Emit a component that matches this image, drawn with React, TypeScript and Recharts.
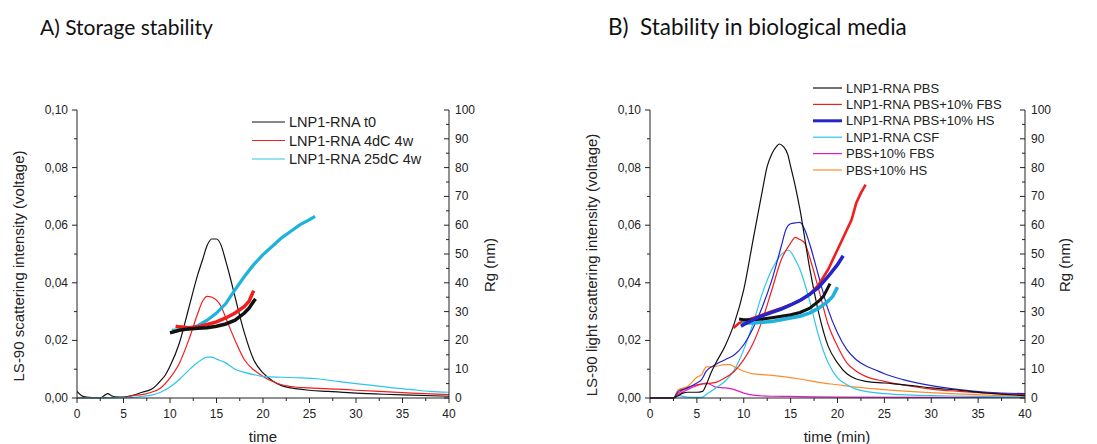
import React from "react"
import { ComposedChart, Line, XAxis, YAxis } from "recharts"

type Pair = [number, number]

// time ticks (min), intensity ticks (V), Rg ticks (nm)
const xTicks = [0, 2.5, 5, 7.5, 10, 12.5, 15, 17.5, 20, 22.5, 25, 27.5, 30, 32.5, 35, 37.5, 40]
const leftTicks = [0, 0.01, 0.02, 0.03, 0.04, 0.05, 0.06, 0.07, 0.08, 0.09, 0.1]
const rightTicks = [0, 5, 10, 15, 20, 25, 30, 35, 40, 45, 50, 55, 60, 65, 70, 75, 80, 85, 90, 95, 100]

// Panel A – storage stability, LS-90 intensity
const aT0: Pair[] = [
  [0, 0.0023], [0.5, 0.0008], [1, 0.0003], [2, 0.0001], [2.5, 0], [3, 0.001], [3.3, 0.0015], [3.7, 0.0008],
  [4, 0.0004], [5, 0.0003], [6, 0.0009], [7, 0.002], [8, 0.003], [8.5, 0.0043], [9, 0.006], [9.5, 0.008],
  [10, 0.011], [11, 0.019], [12, 0.031], [13, 0.043], [13.5, 0.048], [14, 0.053], [14.5, 0.0552], [15, 0.0552],
  [15.5, 0.053], [16, 0.0475], [16.5, 0.0415], [17, 0.035], [18, 0.0226], [19, 0.0133], [20, 0.0087],
  [21, 0.006], [22, 0.0043], [23, 0.0035], [25, 0.0027], [27, 0.0023], [30, 0.0017], [33, 0.0013],
  [36, 0.001], [40, 0.0006],
]
const a4dC: Pair[] = [
  [0, 0], [5, 0.0002], [6, 0.0008], [7, 0.0012], [8, 0.002], [9, 0.0035], [10, 0.007], [11, 0.012],
  [12, 0.02], [13, 0.0295], [13.5, 0.0336], [14, 0.0353], [14.5, 0.035], [15, 0.034], [15.5, 0.0318],
  [16, 0.0278], [17, 0.02], [18, 0.0133], [19, 0.0098], [20, 0.0075], [21, 0.0058], [22, 0.0046],
  [23, 0.004], [25, 0.0035], [28, 0.0031], [30, 0.0027], [33, 0.0022], [36, 0.0017], [40, 0.0012],
]
const a25dC: Pair[] = [
  [0, 0], [6, 0.0002], [7, 0.0006], [8, 0.001], [9, 0.002], [10, 0.0038], [11, 0.0064], [12, 0.0096],
  [13, 0.0124], [14, 0.0142], [14.5, 0.0142], [15, 0.0135], [16, 0.0122], [17, 0.01], [18, 0.0089],
  [19, 0.0081], [20, 0.0075], [22, 0.0072], [24, 0.007], [26, 0.0066], [28, 0.0058], [30, 0.005],
  [32, 0.0043], [34, 0.0035], [36, 0.0029], [38, 0.0023], [40, 0.002],
]
// Panel A – Rg (nm)
const aT0Rg: Pair[] = [
  [10, 22.6], [11, 23.5], [12, 24], [13, 24.2], [14, 24.4], [15, 24.9], [16, 25.7], [17, 27], [18, 29.5],
  [18.5, 31.2], [19, 33.6], [19.2, 34.4],
]
const a4dCRg: Pair[] = [
  [10.6, 24.9], [11, 24.7], [12, 24.4], [13, 24.7], [14, 25.5], [15, 26.4], [16, 27.8], [17, 29.5],
  [18, 31.8], [18.5, 33.6], [19, 37.3],
]
const a25dCRg: Pair[] = [
  [10.2, 23.5], [11, 23.7], [12, 24], [13, 25.1], [14, 27], [15, 29.5], [16, 32.8], [17, 37.6], [18, 42.2],
  [19, 46.3], [20, 49.8], [21, 52.7], [22, 55.6], [23, 57.9], [24, 60.2], [25, 61.9], [25.6, 63.1],
]

// Panel B – biological media, LS-90 intensity
const bPBS: Pair[] = [
  [0, 0], [2.5, 0], [3, 0.0008], [3.5, 0.0017], [4, 0.002], [5, 0.002], [5.6, 0.0023], [6, 0.0046],
  [6.5, 0.0087], [7, 0.012], [8, 0.018], [9, 0.026], [10, 0.0376], [11, 0.055], [12, 0.0723], [12.5, 0.0804],
  [13, 0.0848], [13.5, 0.0874], [13.8, 0.0882], [14.2, 0.0874], [14.7, 0.0845], [15, 0.0804], [15.5, 0.0735],
  [16, 0.0654], [17, 0.0457], [18, 0.0295], [19, 0.018], [20, 0.0122], [21, 0.0084], [22, 0.0066],
  [23, 0.0058], [25, 0.0052], [28, 0.0043], [30, 0.0035], [33, 0.0027], [36, 0.0017], [40, 0.0008],
]
const bFBS: Pair[] = [
  [0, 0], [2.5, 0], [3, 0.0017], [4, 0.0035], [5, 0.0046], [6, 0.005], [7, 0.0054], [8, 0.007], [9, 0.0093],
  [10, 0.0133], [11, 0.019], [12, 0.0272], [13, 0.0376], [14, 0.048], [15, 0.0538], [15.5, 0.0558],
  [16, 0.055], [16.5, 0.0538], [17, 0.0492], [18, 0.0376], [19, 0.0255], [20, 0.018], [21, 0.0122],
  [22, 0.0093], [23, 0.0075], [25, 0.0058], [28, 0.004], [30, 0.0031], [33, 0.0023], [36, 0.0017], [40, 0.0012],
]
const bHS: Pair[] = [
  [0, 0], [2.5, 0], [3, 0.0023], [4, 0.0035], [5, 0.0052], [5.5, 0.0064], [6, 0.0093], [7, 0.0116],
  [8, 0.0133], [9, 0.015], [10, 0.0185], [11, 0.0243], [12, 0.0318], [13, 0.041], [14, 0.0527],
  [14.5, 0.0585], [15, 0.0605], [15.5, 0.0608], [16, 0.061], [16.5, 0.0585], [17, 0.0538], [18, 0.0422],
  [19, 0.0307], [20, 0.0226], [21, 0.0168], [22, 0.0133], [23, 0.0112], [24, 0.0098], [25, 0.0084],
  [27, 0.0064], [30, 0.0043], [33, 0.0029], [36, 0.002], [40, 0.0015],
]
const bCSF: Pair[] = [
  [0, 0], [2.5, 0], [3, 0.0008], [4, 0.0003], [5, 0.0002], [5.5, 0.0002], [6, 0.0012], [7, 0.0035],
  [8, 0.0058], [9, 0.0098], [10, 0.0168], [11, 0.026], [12, 0.0365], [13, 0.0446], [14, 0.0498],
  [14.8, 0.0513], [15.5, 0.048], [16, 0.0446], [17, 0.0341], [18, 0.0214], [19, 0.0122], [20, 0.007],
  [21, 0.0046], [22, 0.0031], [23, 0.0023], [25, 0.0015], [28, 0.001], [32, 0.0007], [36, 0.0005], [40, 0.0003],
]
const bMediaFBS: Pair[] = [
  [0, 0], [2.5, 0], [3, 0.0012], [4, 0.0029], [5, 0.0043], [6, 0.0052], [6.5, 0.0046], [7, 0.0038],
  [8, 0.0035], [9, 0.0029], [10, 0.0017], [11, 0.001], [13, 0.0006], [16, 0.0005], [20, 0.0003],
  [30, 0.0002], [40, 0.0002],
]
const bMediaHS: Pair[] = [
  [0, 0], [2.5, 0], [3, 0.0029], [4, 0.004], [5, 0.0072], [5.5, 0.0081], [6, 0.0108], [7, 0.011],
  [8, 0.0116], [8.5, 0.0116], [9, 0.0108], [10, 0.0093], [11, 0.0084], [12, 0.0081], [14, 0.0075],
  [16, 0.0066], [18, 0.0054], [20, 0.0046], [22, 0.0038], [25, 0.0029], [28, 0.0022], [32, 0.0015],
  [36, 0.001], [40, 0.0006],
]
// Panel B – Rg (nm)
const bPBSRg: Pair[] = [
  [9.5, 27.4], [10, 27.2], [11, 27.2], [12, 27.4], [13, 27.9], [14, 28.4], [15, 28.9], [16, 29.7],
  [17, 31.1], [18, 33.6], [18.5, 35.3], [19.2, 39.7],
]
const bFBSRg: Pair[] = [
  [8.9, 24.3], [9.5, 26], [10, 26.6], [11, 27.8], [12, 28.9], [13, 30.1], [14, 31.2], [15, 32.4], [16, 33.9],
  [17, 35.9], [18, 39.4], [19, 44.6], [20, 51.5], [21, 58.4], [21.5, 61.9], [22, 67.7], [22.5, 71.2], [23, 74.1],
]
const bHSRg: Pair[] = [
  [9.7, 24.9], [10, 25.5], [11, 27.2], [12, 28.6], [13, 29.7], [14, 30.9], [15, 32.3], [16, 33.9],
  [17, 35.9], [18, 38.5], [19, 42.2], [20, 46.3], [20.6, 49.4],
]
const bCSFRg: Pair[] = [
  [9.8, 26], [11, 26], [12, 26.3], [13, 26.6], [14, 27.2], [15, 27.8], [16, 28.4], [17, 29.5], [18, 31.2],
  [19, 33.6], [19.5, 35.3], [20, 38.5],
]

const BLACK = "#111111"
const RED = "#f21d1d"
const CYAN = "#2cc6ea"
const CYAN_RG = "#1eb2de"
const BLUE = "#2424c8"
const MAGENTA = "#e01cc4"
const ORANGE = "#ff8c28"
const AXIS = "#222222"
const FONT = "'Liberation Sans', Arial, sans-serif"

type Series = { key: string; data: Pair[]; color: string; width: number; axis: "left" | "right" }

const panelA: Series[] = [
  { key: "aT0", data: aT0, color: BLACK, width: 1.2, axis: "left" },
  { key: "a4dC", data: a4dC, color: RED, width: 1.2, axis: "left" },
  { key: "a25dC", data: a25dC, color: CYAN, width: 1.2, axis: "left" },
  { key: "a25dCRg", data: a25dCRg, color: CYAN_RG, width: 3.2, axis: "right" },
  { key: "a4dCRg", data: a4dCRg, color: RED, width: 3.5, axis: "right" },
  { key: "aT0Rg", data: aT0Rg, color: BLACK, width: 3.5, axis: "right" },
]

const panelB: Series[] = [
  { key: "bMediaFBS", data: bMediaFBS, color: MAGENTA, width: 1.2, axis: "left" },
  { key: "bMediaHS", data: bMediaHS, color: ORANGE, width: 1.2, axis: "left" },
  { key: "bCSF", data: bCSF, color: CYAN, width: 1.2, axis: "left" },
  { key: "bFBS", data: bFBS, color: RED, width: 1.2, axis: "left" },
  { key: "bHS", data: bHS, color: BLUE, width: 1.2, axis: "left" },
  { key: "bPBS", data: bPBS, color: BLACK, width: 1.2, axis: "left" },
  { key: "bFBSRg", data: bFBSRg, color: RED, width: 2.6, axis: "right" },
  { key: "bCSFRg", data: bCSFRg, color: CYAN_RG, width: 3.5, axis: "right" },
  { key: "bPBSRg", data: bPBSRg, color: BLACK, width: 3, axis: "right" },
  { key: "bHSRg", data: bHSRg, color: BLUE, width: 3.5, axis: "right" },
]

const legendA = [
  { label: "LNP1-RNA t0", color: BLACK, width: 1.2 },
  { label: "LNP1-RNA 4dC 4w", color: RED, width: 1.2 },
  { label: "LNP1-RNA 25dC 4w", color: CYAN, width: 1.2 },
]
const legendB = [
  { label: "LNP1-RNA PBS", color: BLACK, width: 1.2 },
  { label: "LNP1-RNA PBS+10% FBS", color: RED, width: 1.2 },
  { label: "LNP1-RNA PBS+10% HS", color: BLUE, width: 3 },
  { label: "LNP1-RNA CSF", color: CYAN, width: 1.2 },
  { label: "PBS+10% FBS", color: MAGENTA, width: 1.2 },
  { label: "PBS+10% HS", color: ORANGE, width: 1.2 },
]

const toPoints = (pairs: Pair[]) => pairs.map(([t, v]) => ({ t, v }))

function BottomTick(props: any) {
  const { x, y, payload } = props
  const v = payload.value as number
  const major = v % 5 === 0
  return (
    <g>
      <line x1={x} y1={y} x2={x} y2={y + (major ? 5 : 3)} stroke={AXIS} />
      {major && (
        <text x={x} y={y + 20} textAnchor="middle" fontSize={12} fontFamily={FONT} fill={AXIS}>
          {v}
        </text>
      )}
    </g>
  )
}

function LeftTick(props: any) {
  const { x, y, payload } = props
  const v = payload.value as number
  const major = Math.round(v * 100) % 2 === 0
  return (
    <g>
      <line x1={x} y1={y} x2={x - (major ? 5 : 3)} y2={y} stroke={AXIS} />
      {major && (
        <text x={x - 9} y={y + 4} textAnchor="end" fontSize={12} fontFamily={FONT} fill={AXIS}>
          {v.toFixed(2).replace(".", ",")}
        </text>
      )}
    </g>
  )
}

function RightTick(props: any) {
  const { x, y, payload } = props
  const v = payload.value as number
  const major = v % 10 === 0
  return (
    <g>
      <line x1={x} y1={y} x2={x - (major ? 5 : 3)} y2={y} stroke={AXIS} />
      {major && (
        <text x={x + 6} y={y + 4} textAnchor="start" fontSize={12} fontFamily={FONT} fill={AXIS}>
          {v}
        </text>
      )}
    </g>
  )
}

function Panel({ width, left, right, series }: { width: number; left: number; right: number; series: Series[] }) {
  return (
    <ComposedChart width={width} height={444} margin={{ top: 110, right, bottom: 16, left }}>
      <XAxis
        dataKey="t"
        type="number"
        domain={[0, 40]}
        ticks={xTicks}
        interval={0}
        allowDataOverflow
        height={30}
        tickSize={0}
        tickMargin={0}
        tickLine={false}
        axisLine={{ stroke: AXIS }}
        tick={(p: any) => <BottomTick {...p} />}
      />
      <YAxis
        yAxisId="left"
        type="number"
        domain={[0, 0.1]}
        ticks={leftTicks}
        interval={0}
        width={60}
        tickSize={0}
        tickMargin={0}
        tickLine={false}
        axisLine={{ stroke: AXIS }}
        tick={(p: any) => <LeftTick {...p} />}
      />
      <YAxis
        yAxisId="right"
        orientation="right"
        type="number"
        domain={[0, 100]}
        ticks={rightTicks}
        interval={0}
        width={50}
        tickSize={0}
        tickMargin={0}
        tickLine={false}
        axisLine={{ stroke: AXIS }}
        tick={(p: any) => <RightTick {...p} />}
      />
      {series.map((s) => (
        <Line
          key={s.key}
          data={toPoints(s.data)}
          dataKey="v"
          yAxisId={s.axis}
          type={s.axis === "left" ? "monotone" : "linear"}
          stroke={s.color}
          strokeWidth={s.width}
          dot={false}
          activeDot={false}
          isAnimationActive={false}
        />
      ))}
    </ComposedChart>
  )
}

function Legend({ items, x, y0, step, size, len }: { items: typeof legendA; x: number; y0: number; step: number; size: number; len: number }) {
  return (
    <g>
      {items.map((it, i) => (
        <g key={it.label}>
          <line x1={x} x2={x + len} y1={y0 + i * step} y2={y0 + i * step} stroke={it.color} strokeWidth={it.width} />
          <text x={x + len + 4} y={y0 + i * step} dy="0.35em" fontSize={size} fontFamily={FONT} fill={AXIS}>
            {it.label}
          </text>
        </g>
      ))}
    </g>
  )
}

export default function App() {
  const labelStyle = { fontSize: 15, fontFamily: FONT, fill: AXIS }
  return (
    <div style={{ position: "absolute", left: 0, top: 0, width: 1097, height: 444, background: "#fff" }}>
      <div style={{ position: "absolute", left: 0, top: 0 }}>
        <Panel width={550} left={17} right={51} series={panelA} />
      </div>
      <div style={{ position: "absolute", left: 550, top: 0 }}>
        <Panel width={547} left={40} right={22} series={panelB} />
      </div>
      <svg width={1097} height={444} style={{ position: "absolute", left: 0, top: 0, pointerEvents: "none" }}>
        <text x={40} y={35} fontSize={21} fontFamily="Lato, 'Open Sans', sans-serif" fill="#111" style={{ whiteSpace: "pre" }}>
          A) Storage stability
        </text>
        <text x={608} y={35} fontSize={22.5} fontFamily="Lato, 'Open Sans', sans-serif" fill="#111" style={{ whiteSpace: "pre" }}>
          {"B)  Stability in biological media"}
        </text>

        <text transform="translate(19,266) rotate(-90)" textAnchor="middle" dy="0.35em" {...labelStyle}>
          LS-90 scattering intensity (voltage)
        </text>
        <text transform="translate(490,265) rotate(-90)" textAnchor="middle" dy="0.35em" {...labelStyle}>
          Rg (nm)
        </text>
        <text x={263} y={442} textAnchor="middle" {...labelStyle}>
          time
        </text>

        <text transform="translate(592,265) rotate(-90)" textAnchor="middle" dy="0.35em" {...labelStyle}>
          LS-90 light scattering intensity (voltage)
        </text>
        <text transform="translate(1065,265) rotate(-90)" textAnchor="middle" dy="0.35em" {...labelStyle}>
          Rg (nm)
        </text>
        <text x={837} y={442} textAnchor="middle" {...labelStyle}>
          time (min)
        </text>

        <Legend items={legendA} x={252} y0={122} step={18.5} size={14.5} len={33} />
        <Legend items={legendB} x={813} y0={88} step={16.4} size={13} len={29} />
      </svg>
    </div>
  )
}
